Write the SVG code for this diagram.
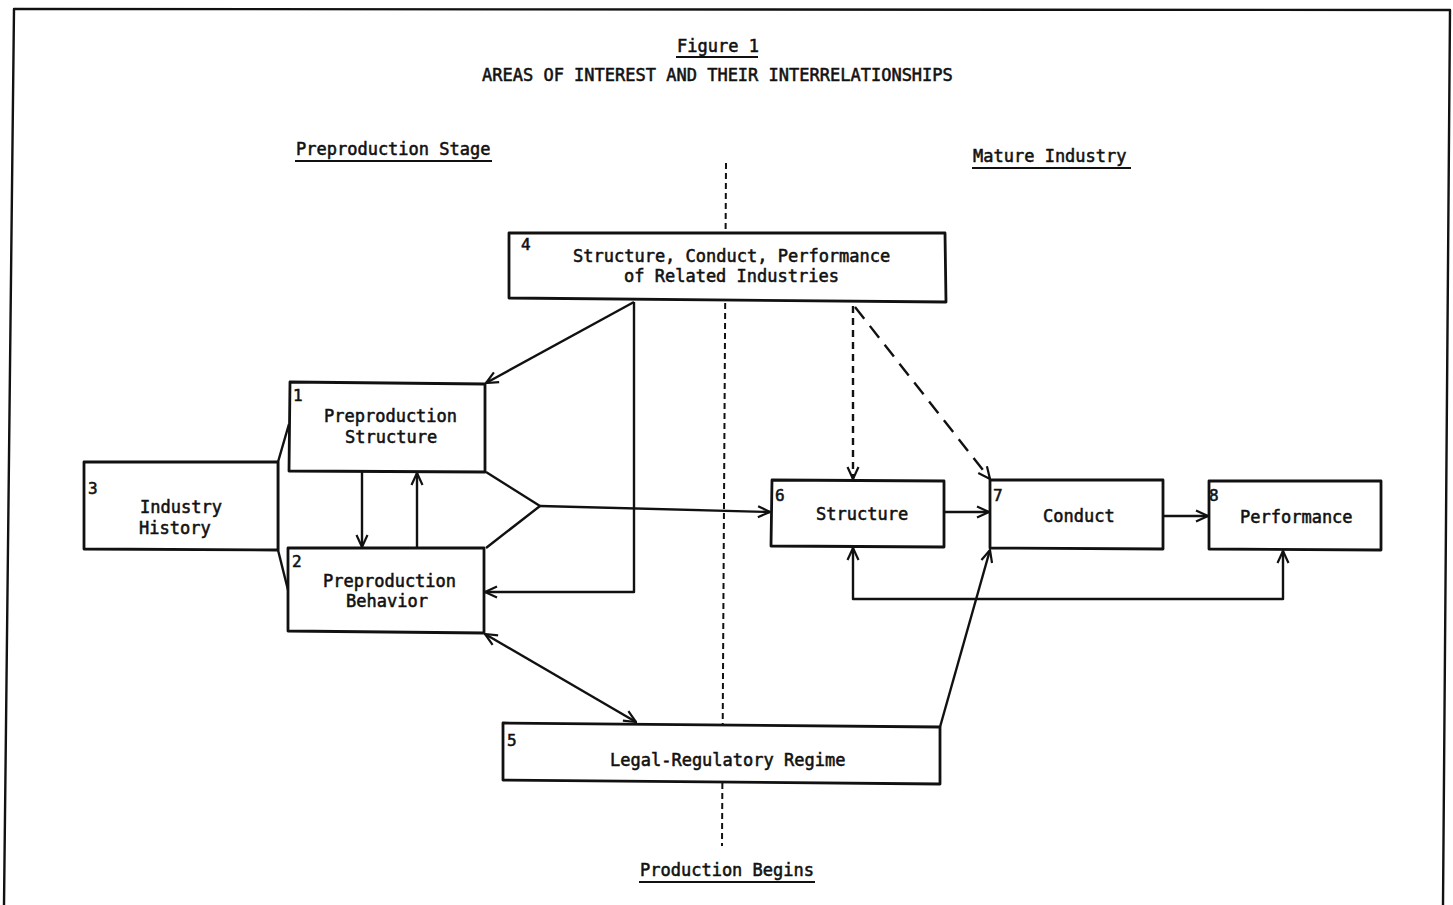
<svg xmlns="http://www.w3.org/2000/svg" width="1453" height="905" viewBox="0 0 1453 905">
  <style>
    text { font-family: "DejaVu Sans Mono", "Liberation Mono", monospace; font-size: 17px; fill: #111; stroke: #111; stroke-width: 0.55; }
    .num { font-size: 16px; }
    .box { fill: #fff; stroke: #111; stroke-width: 2.8; stroke-linejoin: round; }
    .ln { fill: none; stroke: #111; stroke-width: 2.4; stroke-linejoin: round; }
    .ul { stroke: #111; stroke-width: 2; }
    .divider { fill: none; stroke: #111; stroke-width: 2; stroke-dasharray: 6 4; }
    .dash-fine { fill: none; stroke: #111; stroke-width: 2.4; stroke-dasharray: 7 5; }
    .dash-long { fill: none; stroke: #111; stroke-width: 2.4; stroke-dasharray: 15 9; }
  </style>
  <defs>
    <marker id="arrow" viewBox="0 0 14 14" refX="13" refY="7" markerWidth="14" markerHeight="14" markerUnits="userSpaceOnUse" orient="auto-start-reverse">
      <path d="M1,1.5 L13,7 L1,12.5" fill="none" stroke="#111" stroke-width="2.2"/>
    </marker>
  </defs>

  <rect width="1453" height="905" fill="#fff"/>

  <!-- page frame -->
  <path class="ln" d="M4,905 L14,9 L1450,10 L1443,905" stroke-width="2.8"/>

  <!-- headings -->
  <text x="677" y="52">Figure 1</text>
  <line class="ul" x1="676" y1="57" x2="758" y2="57"/>
  <text x="482" y="81">AREAS OF INTEREST AND THEIR INTERRELATIONSHIPS</text>

  <text x="296" y="155">Preproduction Stage</text>
  <line class="ul" x1="295" y1="161" x2="492" y2="161"/>
  <text x="973" y="162">Mature Industry</text>
  <line class="ul" x1="972" y1="168" x2="1131" y2="168"/>
  <text x="640" y="876">Production Begins</text>
  <line class="ul" x1="639" y1="882" x2="815" y2="882"/>

  <!-- stage divider -->
  <path class="divider" d="M726,163 L722,846"/>

  <!-- connectors -->
  <g id="connectors">
    <!-- industry history feeds both preproduction boxes -->
    <path class="ln" d="M289,424 L278,462 L278,550 L288,590"/>
    <!-- preproduction structure <-> behavior -->
    <path class="ln" d="M362,472 L362,547" marker-end="url(#arrow)"/>
    <path class="ln" d="M417,548 L417,473" marker-end="url(#arrow)"/>
    <!-- preproduction stage into mature structure -->
    <path class="ln" d="M486,472 L540,506 L486,548"/>
    <path class="ln" d="M540,506 L770,512" marker-end="url(#arrow)"/>
    <!-- related industries into preproduction -->
    <path class="ln" d="M634,302 L486,383" marker-end="url(#arrow)"/>
    <path class="ln" d="M634,302 L634,592 L485,592" marker-end="url(#arrow)"/>
    <!-- behavior <-> legal regime -->
    <path class="ln" d="M485,634 L636,722" marker-start="url(#arrow)" marker-end="url(#arrow)"/>
    <!-- legal regime into conduct -->
    <path class="ln" d="M940,727 L990,550" marker-end="url(#arrow)"/>
    <!-- related industries into mature structure and conduct -->
    <path class="dash-fine" d="M853,306 L853,479" marker-end="url(#arrow)"/>
    <path class="dash-long" d="M855,307 L990,479" marker-end="url(#arrow)"/>
    <!-- structure -> conduct -> performance -->
    <path class="ln" d="M944,512 L989,512" marker-end="url(#arrow)"/>
    <path class="ln" d="M1163,516 L1208,516" marker-end="url(#arrow)"/>
    <!-- feedback from performance to structure -->
    <path class="ln" d="M853,548 L853,599 L1283,599 L1283,551" marker-start="url(#arrow)" marker-end="url(#arrow)"/>
  </g>

  <!-- nodes -->
  <g id="node1">
    <path class="box" d="M290,382 L485,384 L485,472 L289,471 Z"/>
    <text class="num" x="293" y="401">1</text>
    <text x="324" y="422">Preproduction</text>
    <text x="345" y="443">Structure</text>
  </g>
  <g id="node2">
    <path class="box" d="M288,548 L484,548 L484,633 L288,631 Z"/>
    <text class="num" x="292" y="567">2</text>
    <text x="323" y="587">Preproduction</text>
    <text x="346" y="607">Behavior</text>
  </g>
  <g id="node3">
    <path class="box" d="M84,462 L278,462 L278,550 L84,549 Z"/>
    <text class="num" x="88" y="494">3</text>
    <text x="140" y="513">Industry</text>
    <text x="139" y="534">History</text>
  </g>
  <g id="node4">
    <path class="box" d="M509,233 L945,233 L946,302 L509,298 Z"/>
    <text class="num" x="521" y="250">4</text>
    <text x="573" y="262">Structure, Conduct, Performance</text>
    <text x="624" y="282">of Related Industries</text>
  </g>
  <g id="node5">
    <path class="box" d="M503,723 L940,727 L940,784 L503,780 Z"/>
    <text class="num" x="507" y="746">5</text>
    <text x="610" y="766">Legal-Regulatory Regime</text>
  </g>
  <g id="node6">
    <path class="box" d="M772,480 L944,481 L944,547 L771,546 Z"/>
    <text class="num" x="775" y="501">6</text>
    <text x="816" y="520">Structure</text>
  </g>
  <g id="node7">
    <path class="box" d="M990,480 L1163,480 L1163,549 L990,548 Z"/>
    <text class="num" x="993" y="501">7</text>
    <text x="1043" y="522">Conduct</text>
  </g>
  <g id="node8">
    <path class="box" d="M1209,481 L1381,481 L1381,550 L1209,549 Z"/>
    <text class="num" x="1209" y="501">8</text>
    <text x="1240" y="523">Performance</text>
  </g>
</svg>
